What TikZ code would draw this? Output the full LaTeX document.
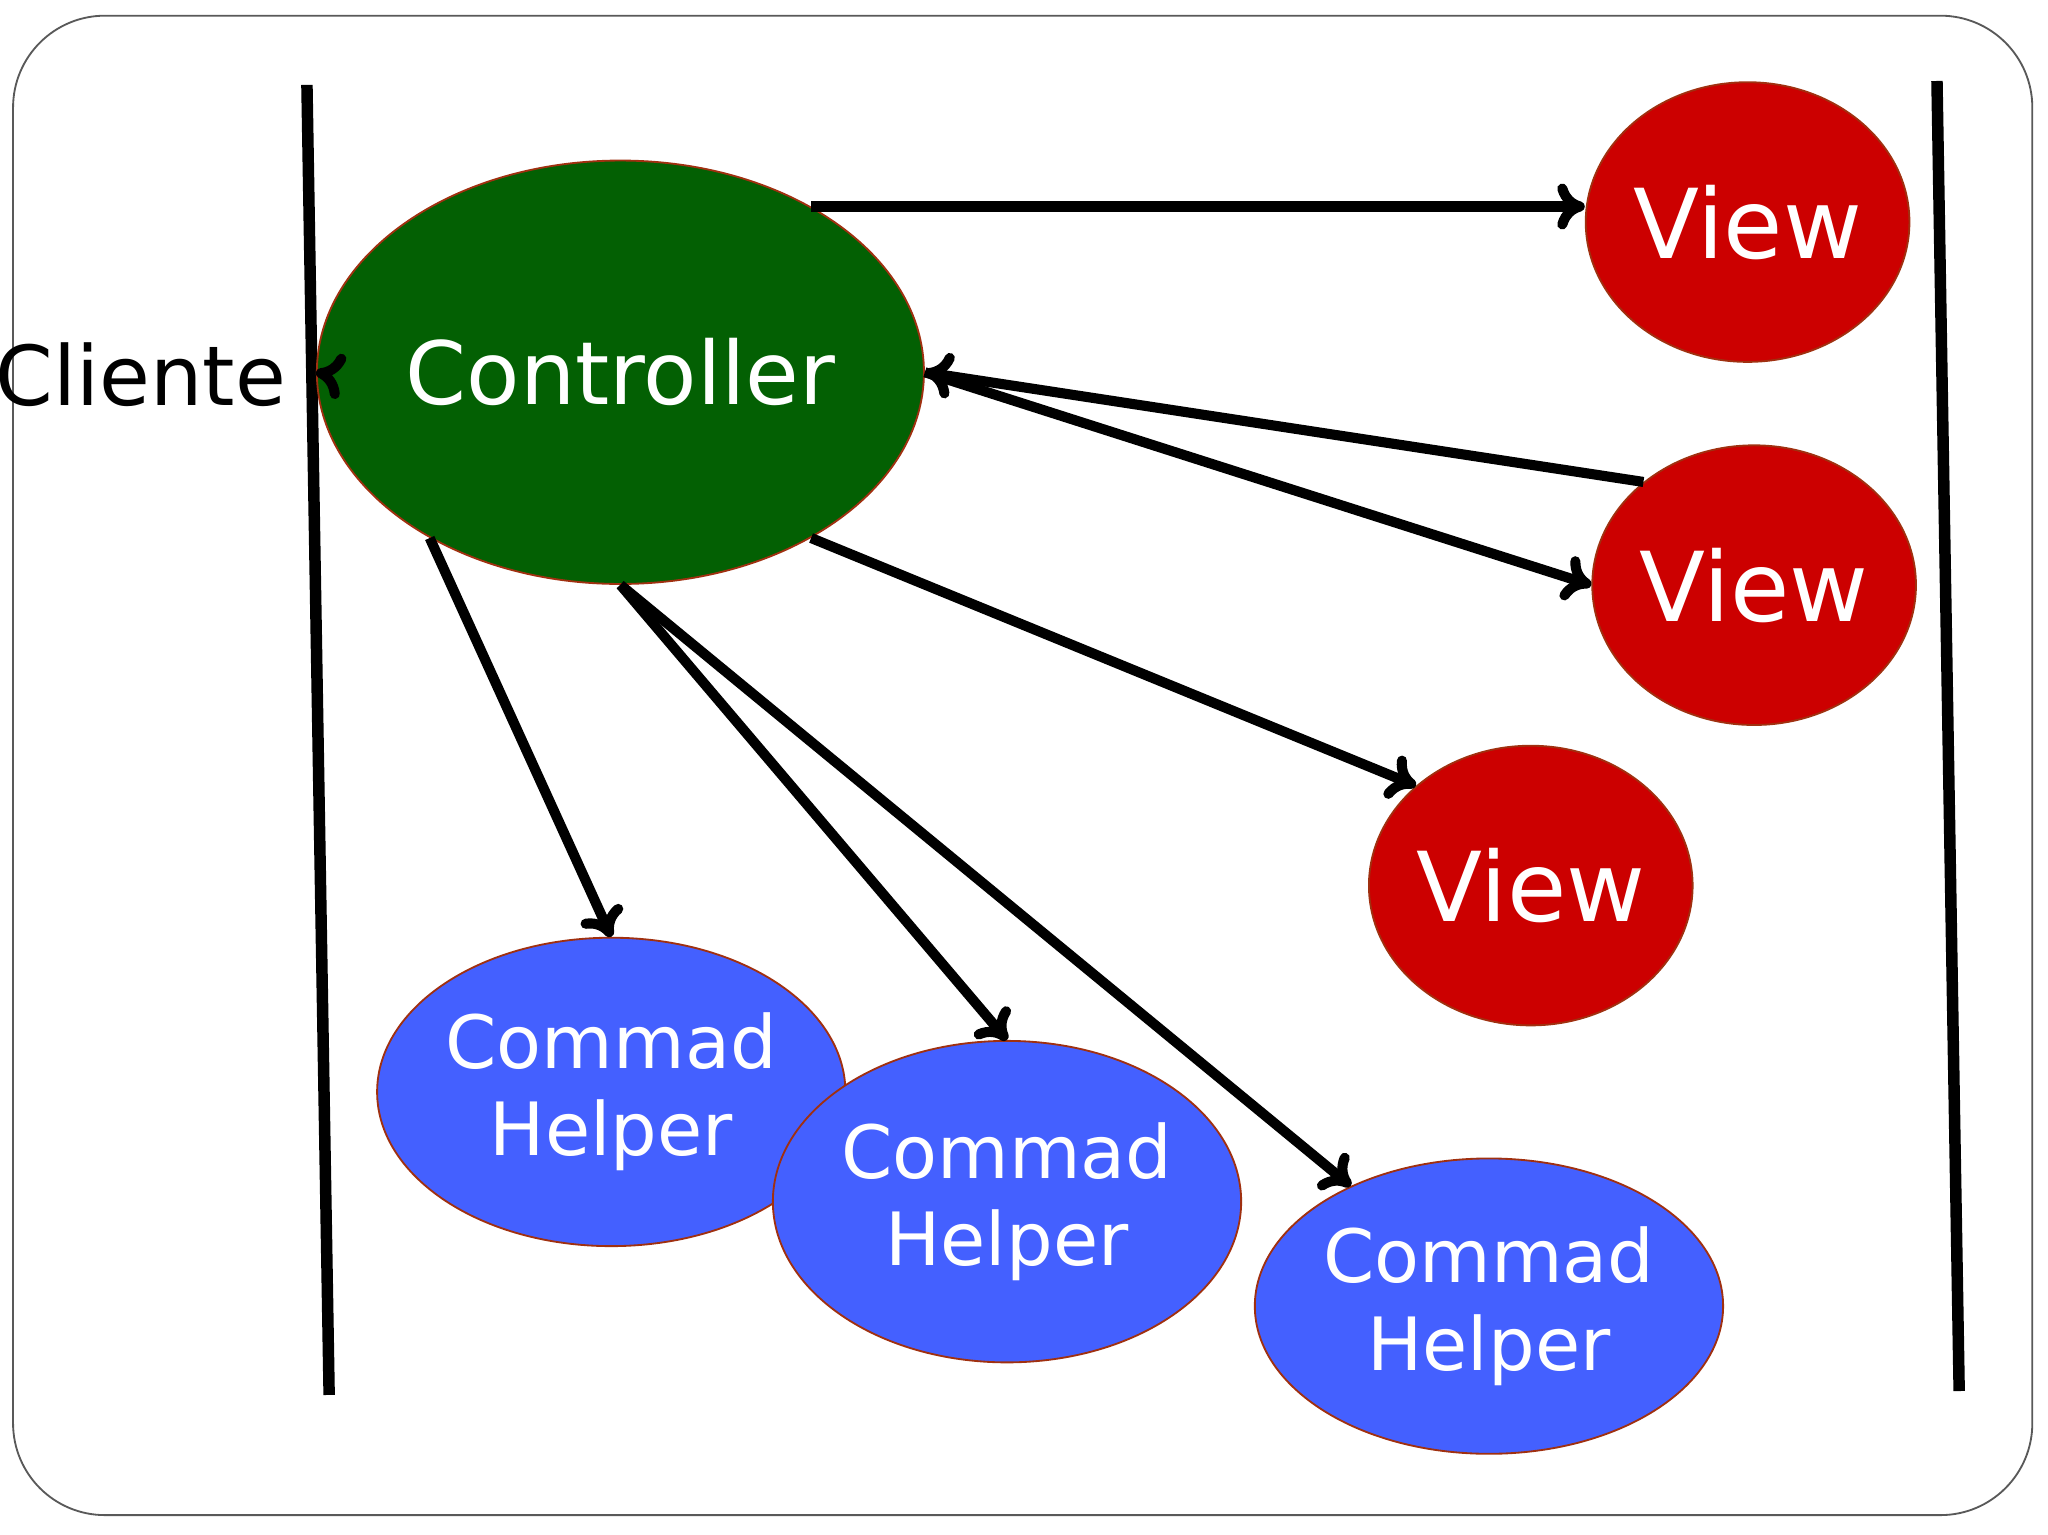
\documentclass[tikz,border=0pt]{standalone}
\usepackage{fontspec}
\setmainfont{DejaVu Sans}
\usetikzlibrary{shapes.geometric,arrows.meta}
\definecolor{ctrlgreen}{HTML}{036003}
\definecolor{viewred}{HTML}{CC0000}
\definecolor{helpblue}{HTML}{4460FF}
\definecolor{rim}{HTML}{A03010}
\tikzset{
  blob/.style={ellipse, draw=rim, inner sep=0pt, text=white, align=center},
  flow/.style={line width=2.2pt, -{To[length=6pt,width=10pt]}},
}
\begin{document}
\begin{tikzpicture}[x=0.01cm,y=-0.01cm]
\useasboundingbox (0,0) rectangle (1568,1175);
\draw [rounded corners=20pt, gray!70!black] (10,12) rectangle (1556,1160);
\draw [line width=2.5pt] (235,65) -- (252,1068);
\draw [line width=2.5pt] (1483,62) -- (1500,1065);
\node [blob, fill=ctrlgreen, minimum width=3.7cm, minimum height=3.24cm, font=\fontsize{19}{22}\selectfont] (ctrl) at (475,285) {Controller};
\node [blob, fill=viewred, minimum width=2.36cm, minimum height=2.14cm, font=\fontsize{21}{24}\selectfont] (v1) at (1338,170) {View};
\node [blob, fill=viewred, minimum width=2.36cm, minimum height=2.14cm, font=\fontsize{21}{24}\selectfont] (v2) at (1343,448) {View};
\node [blob, fill=viewred, minimum width=2.36cm, minimum height=2.14cm, font=\fontsize{21}{24}\selectfont] (v3) at (1172,678) {View};
\node [blob, fill=helpblue, minimum width=2.6cm, minimum height=2.36cm, font=\fontsize{16}{19}\selectfont] (h1) at (468,836) {Commad\\Helper};
\node [blob, fill=helpblue, minimum width=2.6cm, minimum height=2.46cm, font=\fontsize{16}{19}\selectfont] (h2) at (771,920) {Commad\\Helper};
\node [blob, fill=helpblue, minimum width=2.56cm, minimum height=2.26cm, font=\fontsize{16}{19}\selectfont] (h3) at (1140,1000) {Commad\\Helper};
\node [font=\fontsize{18}{22}\selectfont] (cli) at (108,287) {Cliente};
\draw [flow] ([xshift=6pt]cli.east) -- (ctrl.west);
\draw [flow] (ctrl.41) -- (ctrl.41 -| v1.west);
\draw [flow] (v2.137) -- (ctrl.east);
\draw [flow] (ctrl.east) -- (v2.west);
\draw [flow] (ctrl.-41) -- (v3.139);
\draw [flow] (ctrl.221) -- (h1.north);
\draw [flow] (ctrl.south) -- (h2.north);
\draw [flow] (ctrl.south) -- (h3.139);
\end{tikzpicture}
\end{document}
